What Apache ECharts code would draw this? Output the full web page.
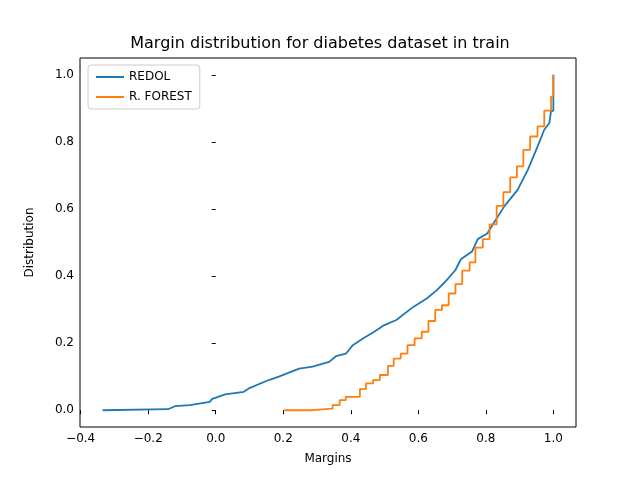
<!DOCTYPE html>
<html>
<head>
<meta charset="utf-8">
<script src="https://cdn.jsdelivr.net/npm/echarts@6/dist/echarts.min.js"></script>
</head>
<body style="margin:0">
<div id="main" style="width:640px;height:480px"></div>
<script>
var redolX = [-0.335, -0.141, -0.121, -0.077, -0.017, -0.012, 0.028, 0.083, 0.098, 0.157, 0.187, 0.247, 0.287, 0.336, 0.356, 0.386, 0.406, 0.436, 0.466, 0.496, 0.535, 0.585, 0.625, 0.655, 0.684, 0.710, 0.726, 0.759, 0.776, 0.804, 0.824, 0.854, 0.894, 0.924, 0.953, 0.973, 0.988, 0.993, 1.0, 1.0];
var redolY = [0, 0.003, 0.012, 0.015, 0.025, 0.033, 0.047, 0.055, 0.065, 0.090, 0.100, 0.124, 0.130, 0.144, 0.161, 0.169, 0.194, 0.214, 0.232, 0.252, 0.269, 0.308, 0.333, 0.358, 0.388, 0.418, 0.450, 0.473, 0.510, 0.527, 0.559, 0.607, 0.657, 0.716, 0.786, 0.836, 0.856, 0.891, 0.893, 1.0];
var forestX = [0.203, 0.287, 0.346, 0.367, 0.385, 0.427, 0.445, 0.466, 0.486, 0.510, 0.527, 0.548, 0.568, 0.589, 0.610, 0.630, 0.650, 0.670, 0.690, 0.710, 0.730, 0.752, 0.769, 0.791, 0.811, 0.832, 0.852, 0.872, 0.892, 0.911, 0.931, 0.953, 0.973, 0.993, 1.0];
var forestY = [0, 0.005, 0.015, 0.030, 0.040, 0.063, 0.080, 0.090, 0.105, 0.132, 0.154, 0.169, 0.194, 0.214, 0.234, 0.266, 0.299, 0.313, 0.348, 0.376, 0.416, 0.441, 0.485, 0.510, 0.554, 0.609, 0.650, 0.694, 0.727, 0.776, 0.816, 0.846, 0.893, 0.935, 1.0];
var xTicks = [-0.4, -0.2, 0.0, 0.2, 0.4, 0.6, 0.8, 1.0];
var yTicks = [0.0, 0.2, 0.4, 0.6, 0.8, 1.0];

function pairs(xs, ys) {
	var out = [];
	for (var i = 0; i < xs.length; i++) out.push([xs[i], ys[i]]);
	return out;
}

var myChart = echarts.init(document.getElementById('main'));
var font = 'DejaVu Sans';
option = {
	animation: false,
	textStyle: { fontFamily: font },
	title: {
		text: 'Margin distribution for diabetes dataset in train',
		left: 'center', top: 31,
		textStyle: { fontSize: 16, fontWeight: 'normal', color: '#000', fontFamily: font }
	},
	legend: {
		left: 88, top: 65, orient: 'vertical',
		backgroundColor: '#fff', borderColor: '#ccc', borderWidth: 1, borderRadius: 3,
		padding: [6, 8], itemGap: 8, itemWidth: 28, itemHeight: 2,
		icon: 'rect',
		textStyle: { fontSize: 12, color: '#000', fontFamily: font },
		data: ['REDOL', 'R. FOREST']
	},
	grid: { left: 80, right: 64, top: 58, bottom: 53, show: true, borderColor: '#000', borderWidth: 1 },
	xAxis: {
		type: 'value', min: -0.402, max: 1.067,
		name: 'Margins', nameLocation: 'middle', nameGap: 26,
		nameTextStyle: { fontSize: 12, color: '#000' },
		axisLine: { show: false },
		splitLine: { show: false },
		axisTick: { show: true, inside: false, length: 4, lineStyle: { color: '#000' }, customValues: xTicks },
		axisLabel: { color: '#000', fontSize: 12, margin: 6, customValues: xTicks,
			formatter: function (v) { return v.toFixed(1).replace('-', '\u2212'); } }
	},
	yAxis: {
		type: 'value', min: -0.05, max: 1.05,
		name: 'Distribution', nameLocation: 'middle', nameGap: 44,
		nameTextStyle: { fontSize: 12, color: '#000' },
		axisLine: { show: false },
		splitLine: { show: false },
		axisTick: { show: true, inside: false, length: 4, lineStyle: { color: '#000' }, customValues: yTicks },
		axisLabel: { color: '#000', fontSize: 12, margin: 6, customValues: yTicks,
			formatter: function (v) { return v.toFixed(1); } }
	},
	series: [
		{ name: 'REDOL', type: 'line', data: pairs(redolX, redolY), showSymbol: false,
			itemStyle: { color: '#1f77b4' }, lineStyle: { color: '#1f77b4', width: 1.8 } },
		{ name: 'R. FOREST', type: 'line', step: 'end', data: pairs(forestX, forestY), showSymbol: false,
			itemStyle: { color: '#ff7f0e' }, lineStyle: { color: '#ff7f0e', width: 1.8 } }
	]
};
myChart.setOption(option);
</script>
</body>
</html>
